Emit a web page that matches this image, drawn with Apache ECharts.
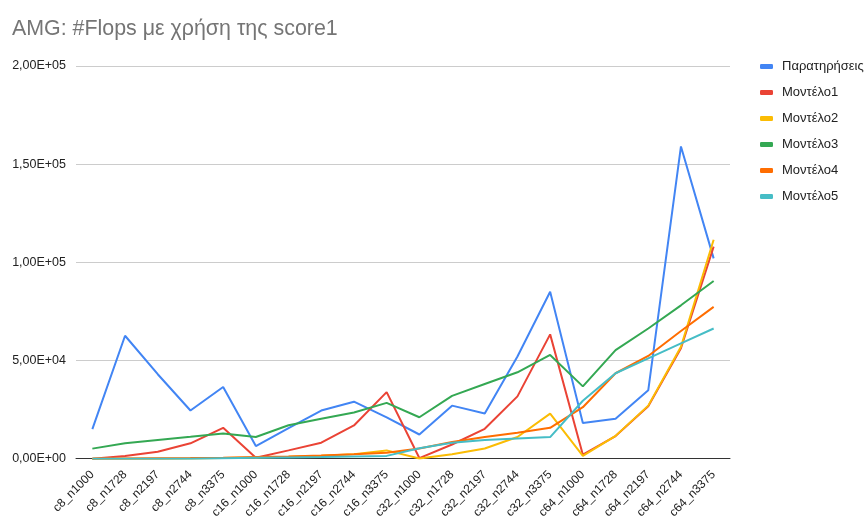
<!DOCTYPE html>
<html>
<head>
<meta charset="utf-8">
<script src="https://cdn.jsdelivr.net/npm/echarts@6/dist/echarts.min.js"></script>
<style>
  html, body { margin: 0; padding: 0; background: #fff; }
  #chart { width: 866px; height: 521px; }
</style>
</head>
<body>
<div id="chart"></div>
<script>
// Problem instances (cores_nodes)
const categories = [
  'c8_n1000', 'c8_n1728', 'c8_n2197', 'c8_n2744', 'c8_n3375',
  'c16_n1000', 'c16_n1728', 'c16_n2197', 'c16_n2744', 'c16_n3375',
  'c32_n1000', 'c32_n1728', 'c32_n2197', 'c32_n2744', 'c32_n3375',
  'c64_n1000', 'c64_n1728', 'c64_n2197', 'c64_n2744', 'c64_n3375'
];

// Measured #Flops
const observed = [15000, 62600, 43000, 24500, 36500, 6400, 15500, 24500, 29000, 21000,
                  12300, 27000, 23000, 52000, 85000, 18200, 20300, 34800, 159000, 102000];
// Model predictions
const model1 = [0, 1400, 3500, 7800, 15700, 500, 4200, 8100, 16900, 33900,
                300, 7200, 15200, 31700, 63300, 2000, 11500, 26700, 56200, 108000];
const model2 = [0, 0, 0, 100, 300, 600, 1000, 1500, 2300, 4200,
                100, 2200, 5200, 11000, 22900, 1400, 11600, 27000, 57000, 111500];
const model3 = [5100, 7800, 9500, 11100, 12800, 11000, 17000, 20300, 23500, 28400,
                21100, 32000, 38000, 44000, 52800, 36800, 55300, 66300, 78100, 90500];
const model4 = [0, 100, 200, 300, 500, 800, 1100, 1600, 2200, 3000,
                5200, 8500, 11000, 13200, 15700, 26200, 43500, 52300, 65000, 77300];
const model5 = [0, 0, 0, 0, 200, 400, 600, 800, 1100, 1400,
                5300, 8100, 9500, 10300, 11000, 29500, 43500, 51100, 58700, 66300];

const seriesNames = ['Παρατηρήσεις', 'Μοντέλο1', 'Μοντέλο2', 'Μοντέλο3', 'Μοντέλο4', 'Μοντέλο5'];
const seriesData = [observed, model1, model2, model3, model4, model5];
const colors = ['#4285F4', '#EA4335', '#FBBC04', '#34A853', '#FF6D01', '#46BDC6'];

// Scientific notation with comma decimal separator, e.g. 1,50E+05
function sci(v) {
  if (v === 0) return '0,00E+00';
  let e = Math.floor(Math.log10(Math.abs(v)));
  let m = v / Math.pow(10, e);
  if (Math.abs(m) >= 9.995) { m /= 10; e += 1; }
  const sign = e < 0 ? '-' : '+';
  const ee = String(Math.abs(e)).padStart(2, '0');
  return m.toFixed(2).replace('.', ',') + 'E' + sign + ee;
}

const font = 'Arial, "Liberation Sans", sans-serif';
const chart = echarts.init(document.getElementById('chart'), null, { renderer: 'canvas' });

chart.setOption({
  backgroundColor: '#ffffff',
  color: colors,
  animation: false,
  title: {
    text: 'AMG: #Flops με χρήση της score1',
    left: 12,
    top: 19,
    padding: 0,
    textStyle: { fontFamily: font, fontSize: 21.4, fontWeight: 'normal', color: '#757575' }
  },
  legend: {
    orient: 'vertical',
    left: 760,
    top: 60,
    padding: 0,
    itemWidth: 13,
    itemHeight: 5,
    itemGap: 13,
    icon: 'roundRect',
    textStyle: { fontFamily: font, fontSize: 13, color: '#222222', padding: [0, 0, 0, 4] },
    data: seriesNames
  },
  grid: { left: 76, right: 136, top: 66, bottom: 60, containLabel: false },
  xAxis: {
    type: 'category',
    data: categories,
    boundaryGap: true,
    axisLine: { lineStyle: { color: '#333333', width: 1 } },
    axisTick: { show: false },
    axisLabel: {
      rotate: 45,
      interval: 0,
      margin: 14,
      fontFamily: font,
      fontSize: 12,
      color: '#222222'
    }
  },
  yAxis: {
    type: 'value',
    min: 0,
    max: 200000,
    interval: 50000,
    axisLine: { show: false },
    axisTick: { show: false },
    splitLine: { lineStyle: { color: '#cccccc', width: 1 } },
    axisLabel: {
      formatter: sci,
      margin: 10,
      fontFamily: font,
      fontSize: 12.5,
      color: '#222222'
    }
  },
  series: seriesNames.map((name, i) => ({
    name: name,
    type: 'line',
    data: seriesData[i],
    showSymbol: false,
    symbol: 'none',
    lineStyle: { width: 2, color: colors[i] },
    itemStyle: { color: colors[i] }
  }))
});
</script>
</body>
</html>
